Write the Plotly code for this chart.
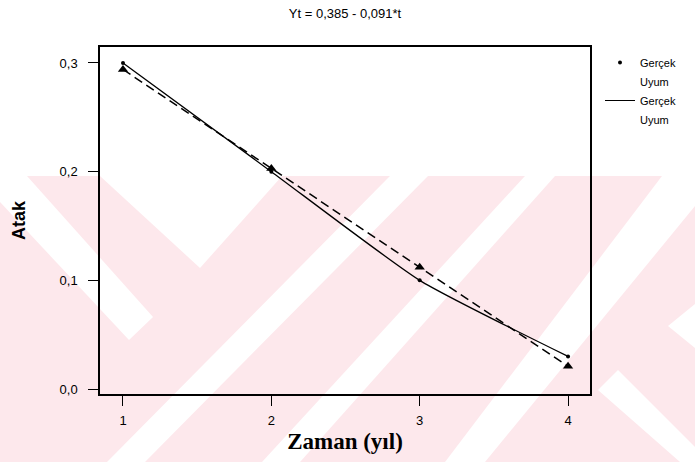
import plotly.graph_objects as go

# ---- data ----
t = [1, 2, 3, 4]
gercek = [0.30, 0.20, 0.10, 0.03]
uyum = [0.294, 0.203, 0.112, 0.021]
x_ticks = [1, 2, 3, 4]
y_ticks = [0.0, 0.1, 0.2, 0.3]
y_tick_text = ["0,0", "0,1", "0,2", "0,3"]
title_text = "Yt = 0,385 - 0,091*t"

W, H = 695, 462
L, R, T, B = 100, 590, 47, 394  # plot area in pixels


def px_path(pts):
    """convert pixel polygon to paper-coordinate SVG path (decorative watermark)"""
    s = []
    for i, (px, py) in enumerate(pts):
        xp = (px - L) / (R - L)
        yp = (B - py) / (B - T)
        s.append(("M" if i == 0 else "L") + f"{xp:.4f},{yp:.4f}")
    return " ".join(s) + " Z"


pink = "#fde8ec"
wm_white = [
    [(0, 176), (27, 176), (153, 317), (129, 340), (0, 202)],
    [(100, 176), (282, 176), (200, 268)],
    [(390, 176), (428, 176), (145, 462), (107, 462)],
    [(525, 176), (555, 176), (300, 462), (262, 462)],
    [(662, 176), (700, 176), (700, 200), (485, 462), (445, 462)],
    [(618, 370), (700, 452), (700, 462), (680, 462), (598, 390)],
    [(700, 300), (668, 326), (700, 352)],
]

shapes = [dict(type="path", xref="paper", yref="paper", layer="below",
               path=px_path([(0, 176), (W, 176), (W, H), (0, H)]),
               fillcolor=pink, line=dict(width=0))]
for poly in wm_white:
    shapes.append(dict(type="path", xref="paper", yref="paper", layer="below",
                       path=px_path(poly), fillcolor="white", line=dict(width=0)))

fig = go.Figure()

# Uyum (fit): dashed line with triangles
fig.add_trace(go.Scatter(x=t, y=uyum, mode="lines+markers", showlegend=False,
                         line=dict(color="black", width=1.5, dash="9px,5px"),
                         marker=dict(symbol="triangle-up", size=9, color="black")))
# Gerçek (actual): solid line
fig.add_trace(go.Scatter(x=t, y=gercek, mode="lines", showlegend=False,
                         line=dict(color="black", width=1.3, shape="spline", smoothing=0.5)))

# legend entries
fig.add_trace(go.Scatter(x=t, y=gercek, mode="markers", name="Gerçek",
                         marker=dict(symbol="circle", size=4, color="black")))
fig.add_trace(go.Scatter(x=[None], y=[None], mode="markers", name="Uyum",
                         marker=dict(color="rgba(0,0,0,0)", size=4)))
fig.add_trace(go.Scatter(x=[None], y=[None], mode="lines", name="Gerçek",
                         line=dict(color="black", width=1)))
fig.add_trace(go.Scatter(x=[None], y=[None], mode="markers", name="Uyum",
                         marker=dict(color="rgba(0,0,0,0)", size=4)))

sans = "Liberation Sans Narrow, Liberation Sans, Arial, sans-serif"
axis_font = dict(family=sans, size=13, color="black")

fig.update_layout(
    width=W, height=H,
    margin=dict(l=L, r=W - R, t=T, b=H - B, pad=0),
    paper_bgcolor="white",
    plot_bgcolor="rgba(0,0,0,0)",
    shapes=shapes,
    title=dict(text=title_text, x=(L + R) / 2 / W, xanchor="center",
               y=1 - 13 / H, yanchor="middle",
               font=dict(family=sans, size=13, color="black")),
    xaxis=dict(range=[0.845, 4.148], tickvals=x_ticks, ticktext=[str(v) for v in x_ticks],
               showgrid=False, zeroline=False, showline=True, linecolor="black",
               linewidth=1.5, mirror=True, ticks="outside", ticklen=10, tickwidth=1.3,
               tickcolor="black", tickfont=axis_font, ticklabelstandoff=4,
               automargin=False,
               title=dict(text="Zaman (yıl)", standoff=6,
                          font=dict(family="Liberation Serif, Times New Roman, serif", size=23,
                                    weight="bold", color="black"))),
    yaxis=dict(range=[-0.0046, 0.3147], tickvals=y_ticks, ticktext=y_tick_text,
               showgrid=False, zeroline=False, showline=True, linecolor="black",
               linewidth=1.5, mirror=True, ticks="outside", ticklen=10, tickwidth=1.3,
               tickcolor="black", tickfont=axis_font, ticklabelstandoff=8,
               automargin=False,
               title=dict(text="Atak", standoff=29,
                          font=dict(family="Liberation Sans", size=18, weight="bold",
                                    color="black"))),
    legend=dict(x=(600 - L) / (R - L), xanchor="left", y=(B - 48) / (B - T), yanchor="top",
                bgcolor="rgba(0,0,0,0)", tracegroupgap=0, itemwidth=30,
                font=dict(family=sans, size=11, color="black")),
    showlegend=True,
)

fig.write_html("out.html", post_script="document.body.style.margin='0';",
               config={"displayModeBar": False})
